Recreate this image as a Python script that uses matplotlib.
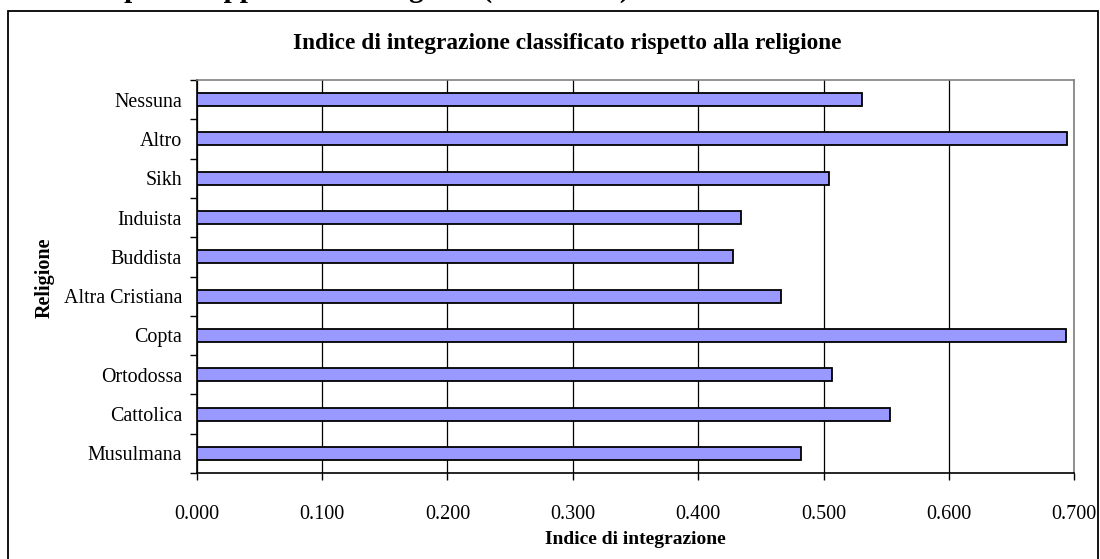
import matplotlib
matplotlib.use("Agg")
import matplotlib.pyplot as plt
from matplotlib.patches import Rectangle
import numpy as np

categories = ["Musulmana", "Cattolica", "Ortodossa", "Copta", "Altra Cristiana",
              "Buddista", "Induista", "Sikh", "Altro", "Nessuna"]
values = [0.482, 0.553, 0.507, 0.693, 0.466, 0.428, 0.434, 0.504, 0.694, 0.531]
xticks = [0.0, 0.1, 0.2, 0.3, 0.4, 0.5, 0.6, 0.7]
xticklabels = ["0.000", "0.100", "0.200", "0.300", "0.400", "0.500", "0.600", "0.700"]

plt.rcParams['font.family'] = ['Liberation Serif', 'DejaVu Serif']

W, H = 1100, 559
fig = plt.figure(figsize=(W / 100, H / 100), dpi=100)

# outer chart border
fig.patches.append(Rectangle((8 / W, -0.05), 1090 / W, 1 - 11 / H + 0.05,
                             transform=fig.transFigure, fill=False,
                             edgecolor='black', linewidth=1.3))

# heading above the chart, cut off by the top edge (only descenders visible)
prefix = "Grafico 3 – Indice medio "
heading = prefix + "per il rapporto alla religione (anno 2008)"
renderer = fig.canvas.get_renderer()
tmp = fig.text(0, 0, prefix, fontsize=21, fontweight='bold')
pw = tmp.get_window_extent(renderer).width
tmp.remove()
fig.text((124 - pw) / W, 1 + 3.5 / H, heading,
         fontsize=21, fontweight='bold', ha='left', va='baseline')

ax = fig.add_axes([196.7 / W, 1 - 473 / H, (1074.3 - 196.7) / W, (473 - 80) / H])

y = np.arange(len(categories))
ax.barh(y, values, height=0.33, color='#9999FF', edgecolor='black', linewidth=1.3, zorder=3)

ax.set_xlim(0, 0.7)
ax.set_ylim(-0.5, len(categories) - 0.5)
ax.set_xticks(xticks)
ax.set_xticklabels(xticklabels, fontsize=14.5)
ax.xaxis.grid(True, color='black', linewidth=0.9, zorder=0)
ax.set_axisbelow(True)

ax.set_yticks(np.arange(-0.5, len(categories), 1.0))
ax.set_yticklabels([])
ax.set_yticks(y, minor=True)
ax.set_yticklabels(categories, minor=True, fontsize=14.4)
ax.tick_params(axis='y', which='minor', length=0, pad=10.5)
ax.tick_params(axis='y', which='major', length=5, width=1, direction='out')
ax.tick_params(axis='x', length=5, width=1, direction='out', pad=18)

for s in ['top', 'right']:
    ax.spines[s].set_color('#808080')
    ax.spines[s].set_linewidth(1.2)
for s in ['left', 'bottom']:
    ax.spines[s].set_color('black')
    ax.spines[s].set_linewidth(1.2)

fig.text(567 / W, 1 - 44 / H, "Indice di integrazione classificato rispetto alla religione",
         fontsize=16.8, fontweight='bold', ha='center', va='center')
fig.text(635 / W, 1 - 539 / H, "Indice di integrazione",
         fontsize=14, fontweight='bold', ha='center', va='center')
fig.text(45 / W, 1 - 278 / H, "Religione", rotation=90,
         fontsize=14.5, fontweight='bold', ha='center', va='center')

fig.savefig("out.png", dpi=100)
